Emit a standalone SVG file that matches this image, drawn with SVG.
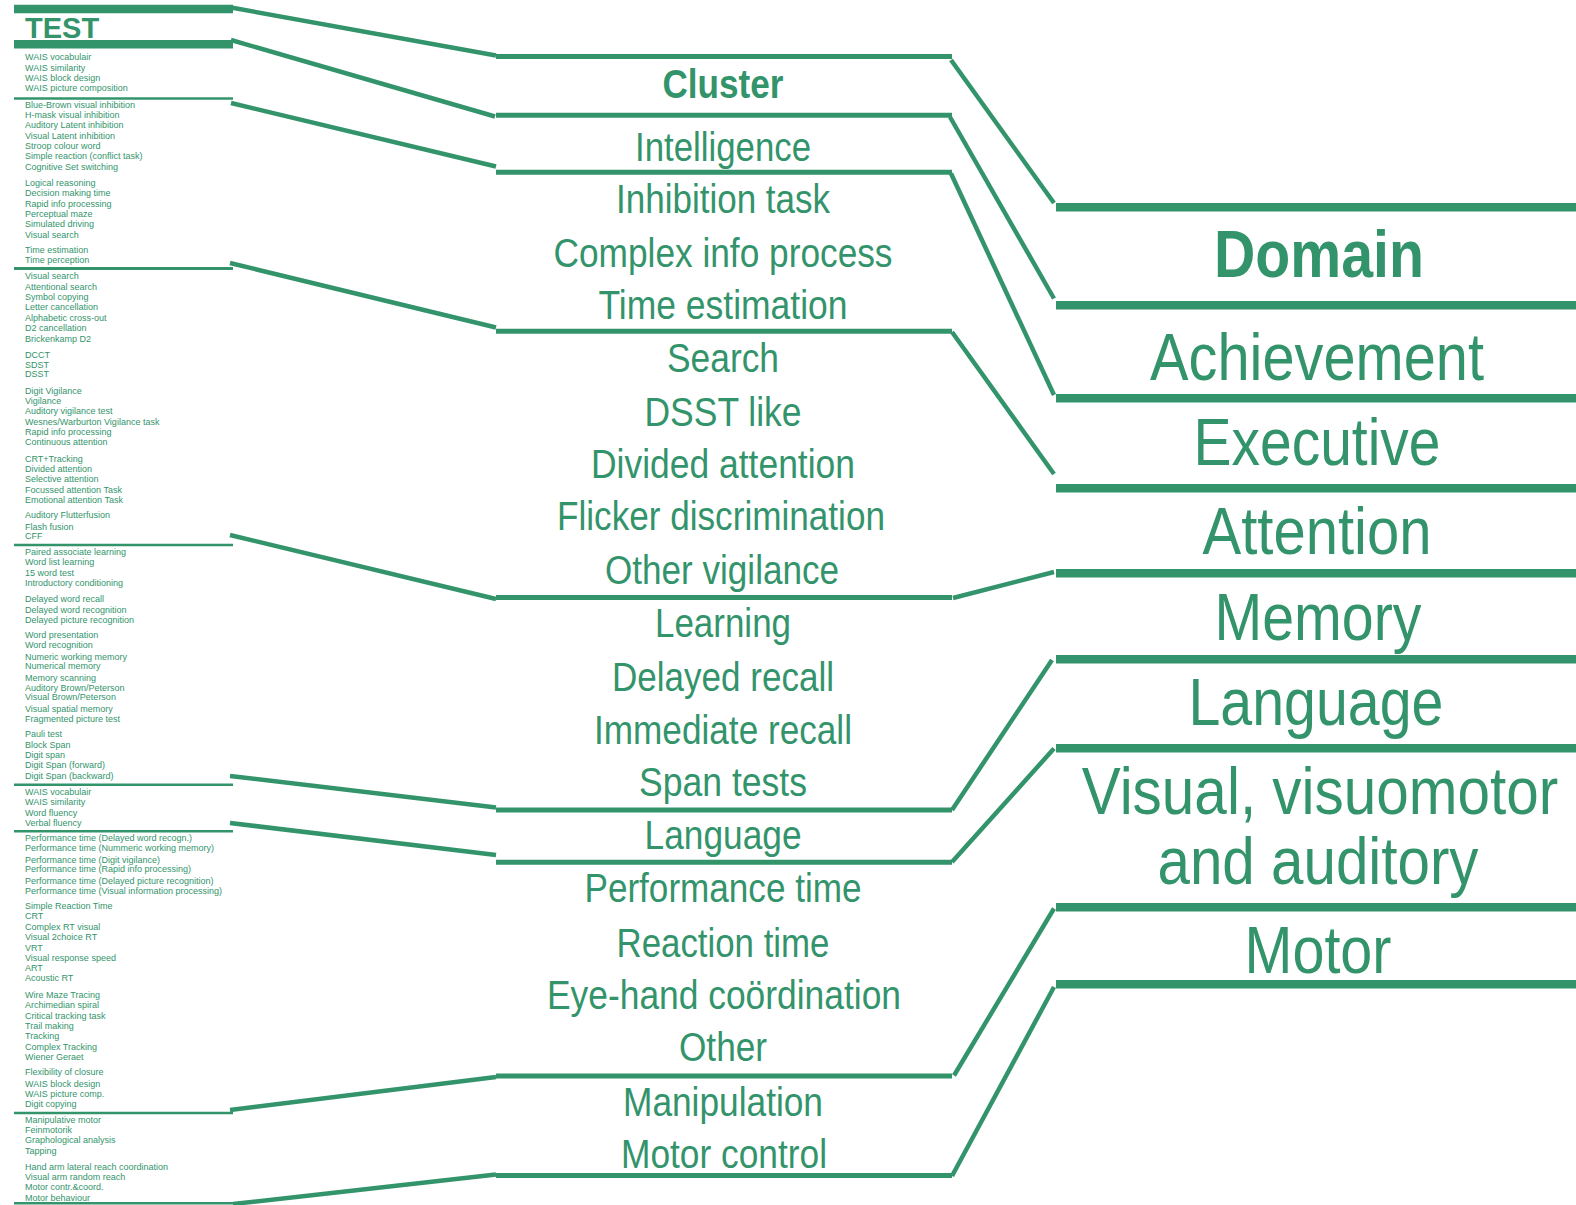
<svg xmlns="http://www.w3.org/2000/svg" width="1576" height="1205" viewBox="0 0 1576 1205">
<style>
.bg{fill:#ffffff}
.sep{stroke:#33946b;fill:none;stroke-linecap:butt}
.conn{stroke:#33946b;fill:none;stroke-width:4.5;stroke-linecap:butt;stroke-linejoin:miter}
.ts{font-family:"Liberation Sans",Arial,sans-serif;font-size:9px;fill:#33946b}
.tm{font-family:"Liberation Sans",Arial,sans-serif;font-size:40px;fill:#33946b;text-anchor:middle}
.tr{font-family:"Liberation Sans",Arial,sans-serif;font-size:66px;fill:#33946b;text-anchor:middle}
.b{font-weight:bold}
</style>
<rect class="bg" x="0" y="0" width="1576" height="1205"/>

<g id="test-column">
  <g id="test-separators">
    <line class="sep" x1="14" y1="9" x2="233" y2="9" stroke-width="8.5"/>
    <line class="sep" x1="14" y1="44.3" x2="233" y2="44.3" stroke-width="8.5"/>
    <line class="sep" x1="14" y1="98.5" x2="233" y2="98.5" stroke-width="2.6"/>
    <line class="sep" x1="14" y1="268.5" x2="233" y2="268.5" stroke-width="2.8"/>
    <line class="sep" x1="14" y1="545" x2="233" y2="545" stroke-width="2.6"/>
    <line class="sep" x1="14" y1="784.8" x2="233" y2="784.8" stroke-width="2.6"/>
    <line class="sep" x1="14" y1="831.2" x2="233" y2="831.2" stroke-width="2.6"/>
    <line class="sep" x1="14" y1="1113" x2="233" y2="1113" stroke-width="2.6"/>
    <line class="sep" x1="14" y1="1203.3" x2="233" y2="1203.3" stroke-width="2.6"/>
  </g>
  <g id="test-header"><text class="ts b" x="25" y="37.5" style="font-size:29px">TEST</text></g>
  <g id="tests-intelligence">
    <text class="ts" x="25" y="59.9">WAIS vocabulair</text>
    <text class="ts" x="25" y="70.9">WAIS similarity</text>
    <text class="ts" x="25" y="81.2">WAIS block design</text>
    <text class="ts" x="25" y="91.2">WAIS picture composition</text>
  </g>
  <g id="tests-inhibition">
    <text class="ts" x="25" y="107.9">Blue-Brown visual inhibition</text>
    <text class="ts" x="25" y="117.9">H-mask visual inhibition</text>
    <text class="ts" x="25" y="128.2">Auditory Latent inhibition</text>
    <text class="ts" x="25" y="138.9">Visual Latent inhibition</text>
    <text class="ts" x="25" y="148.9">Stroop colour word</text>
    <text class="ts" x="25" y="158.9">Simple reaction (conflict task)</text>
    <text class="ts" x="25" y="169.5">Cognitive Set switching</text>
  </g>
  <g id="tests-complex-info">
    <text class="ts" x="25" y="185.9">Logical reasoning</text>
    <text class="ts" x="25" y="195.9">Decision making time</text>
    <text class="ts" x="25" y="206.9">Rapid info processing</text>
    <text class="ts" x="25" y="216.9">Perceptual maze</text>
    <text class="ts" x="25" y="227.2">Simulated driving</text>
    <text class="ts" x="25" y="237.9">Visual search</text>
  </g>
  <g id="tests-time-estimation">
    <text class="ts" x="25" y="252.9">Time estimation</text>
    <text class="ts" x="25" y="262.9">Time perception</text>
  </g>
  <g id="tests-search">
    <text class="ts" x="25" y="278.9">Visual search</text>
    <text class="ts" x="25" y="289.5">Attentional search</text>
    <text class="ts" x="25" y="299.9">Symbol copying</text>
    <text class="ts" x="25" y="310.2">Letter cancellation</text>
    <text class="ts" x="25" y="320.9">Alphabetic cross-out</text>
    <text class="ts" x="25" y="331.2">D2 cancellation</text>
    <text class="ts" x="25" y="341.9">Brickenkamp D2</text>
  </g>
  <g id="tests-dsst">
    <text class="ts" x="25" y="357.5">DCCT</text>
    <text class="ts" x="25" y="367.5">SDST</text>
    <text class="ts" x="25" y="376.9">DSST</text>
  </g>
  <g id="tests-vigilance">
    <text class="ts" x="25" y="393.5">Digit Vigilance</text>
    <text class="ts" x="25" y="403.9">Vigilance</text>
    <text class="ts" x="25" y="413.9">Auditory vigilance test</text>
    <text class="ts" x="25" y="424.9">Wesnes/Warburton Vigilance task</text>
    <text class="ts" x="25" y="435.2">Rapid info processing</text>
    <text class="ts" x="25" y="445.2">Continuous attention</text>
  </g>
  <g id="tests-divided">
    <text class="ts" x="25" y="461.9">CRT+Tracking</text>
    <text class="ts" x="25" y="472.2">Divided attention</text>
    <text class="ts" x="25" y="481.9">Selective attention</text>
    <text class="ts" x="25" y="492.9">Focussed attention Task</text>
    <text class="ts" x="25" y="502.9">Emotional attention Task</text>
  </g>
  <g id="tests-flicker">
    <text class="ts" x="25" y="518.2">Auditory Flutterfusion</text>
    <text class="ts" x="25" y="529.9">Flash fusion</text>
    <text class="ts" x="25" y="539.2">CFF</text>
  </g>
  <g id="tests-learning">
    <text class="ts" x="25" y="555.2">Paired associate learning</text>
    <text class="ts" x="25" y="565.2">Word list learning</text>
    <text class="ts" x="25" y="575.9">15 word test</text>
    <text class="ts" x="25" y="585.9">Introductory conditioning</text>
  </g>
  <g id="tests-delayed">
    <text class="ts" x="25" y="601.9">Delayed word recall</text>
    <text class="ts" x="25" y="612.9">Delayed word recognition</text>
    <text class="ts" x="25" y="622.9">Delayed picture recognition</text>
  </g>
  <g id="tests-immediate">
    <text class="ts" x="25" y="637.9">Word presentation</text>
    <text class="ts" x="25" y="648.2">Word recognition</text>
    <text class="ts" x="25" y="659.9">Numeric working memory</text>
    <text class="ts" x="25" y="668.9">Numerical memory</text>
    <text class="ts" x="25" y="680.9">Memory scanning</text>
    <text class="ts" x="25" y="690.9">Auditory Brown/Peterson</text>
    <text class="ts" x="25" y="699.9">Visual Brown/Peterson</text>
    <text class="ts" x="25" y="712.2">Visual spatial memory</text>
    <text class="ts" x="25" y="721.9">Fragmented picture test</text>
  </g>
  <g id="tests-span">
    <text class="ts" x="25" y="736.5">Pauli test</text>
    <text class="ts" x="25" y="747.9">Block Span</text>
    <text class="ts" x="25" y="757.9">Digit span</text>
    <text class="ts" x="25" y="768.2">Digit Span (forward)</text>
    <text class="ts" x="25" y="779.2">Digit Span (backward)</text>
  </g>
  <g id="tests-language">
    <text class="ts" x="25" y="794.9">WAIS vocabulair</text>
    <text class="ts" x="25" y="805.2">WAIS similarity</text>
    <text class="ts" x="25" y="815.9">Word fluency</text>
    <text class="ts" x="25" y="825.9">Verbal fluency</text>
  </g>
  <g id="tests-performance">
    <text class="ts" x="25" y="840.9">Performance time (Delayed word recogn.)</text>
    <text class="ts" x="25" y="851.2">Performance time (Nummeric working memory)</text>
    <text class="ts" x="25" y="863.2">Performance time (Digit vigilance)</text>
    <text class="ts" x="25" y="872.2">Performance time (Rapid info processing)</text>
    <text class="ts" x="25" y="883.5">Performance time (Delayed picture recognition)</text>
    <text class="ts" x="25" y="893.5">Performance time (Visual information processing)</text>
  </g>
  <g id="tests-reaction">
    <text class="ts" x="25" y="908.9">Simple Reaction Time</text>
    <text class="ts" x="25" y="918.9">CRT</text>
    <text class="ts" x="25" y="929.9">Complex RT visual</text>
    <text class="ts" x="25" y="939.5">Visual 2choice RT</text>
    <text class="ts" x="25" y="950.5">VRT</text>
    <text class="ts" x="25" y="960.5">Visual response speed</text>
    <text class="ts" x="25" y="970.9">ART</text>
    <text class="ts" x="25" y="981.2">Acoustic RT</text>
  </g>
  <g id="tests-eye-hand">
    <text class="ts" x="25" y="998.2">Wire Maze Tracing</text>
    <text class="ts" x="25" y="1008.2">Archimedian spiral</text>
    <text class="ts" x="25" y="1018.9">Critical tracking task</text>
    <text class="ts" x="25" y="1029.2">Trail making</text>
    <text class="ts" x="25" y="1039.2">Tracking</text>
    <text class="ts" x="25" y="1049.9">Complex Tracking</text>
    <text class="ts" x="25" y="1059.9">Wiener Geraet</text>
  </g>
  <g id="tests-other">
    <text class="ts" x="25" y="1075.2">Flexibility of closure</text>
    <text class="ts" x="25" y="1086.9">WAIS block design</text>
    <text class="ts" x="25" y="1096.9">WAIS picture comp.</text>
    <text class="ts" x="25" y="1106.9">Digit copying</text>
  </g>
  <g id="tests-manipulation">
    <text class="ts" x="25" y="1122.9">Manipulative motor</text>
    <text class="ts" x="25" y="1132.9">Feinmotorik</text>
    <text class="ts" x="25" y="1142.9">Graphological analysis</text>
    <text class="ts" x="25" y="1153.5">Tapping</text>
  </g>
  <g id="tests-motor-control">
    <text class="ts" x="25" y="1170.2">Hand arm lateral reach coordination</text>
    <text class="ts" x="25" y="1180.2">Visual arm random reach</text>
    <text class="ts" x="25" y="1189.5">Motor contr.&amp;coord.</text>
    <text class="ts" x="25" y="1200.5">Motor behaviour</text>
  </g>
</g>

<g id="cluster-column">
  <g id="cluster-separators">
    <line class="sep" x1="496" y1="56.5" x2="952" y2="56.5" stroke-width="5"/>
    <line class="sep" x1="496" y1="115.3" x2="952" y2="115.3" stroke-width="5"/>
    <line class="sep" x1="496" y1="172.3" x2="952" y2="172.3" stroke-width="5"/>
    <line class="sep" x1="496" y1="331.3" x2="952" y2="331.3" stroke-width="5"/>
    <line class="sep" x1="496" y1="597.5" x2="952" y2="597.5" stroke-width="5"/>
    <line class="sep" x1="496" y1="810" x2="952" y2="810" stroke-width="5"/>
    <line class="sep" x1="496" y1="862.3" x2="952" y2="862.3" stroke-width="5"/>
    <line class="sep" x1="496" y1="1076" x2="952" y2="1076" stroke-width="5"/>
    <line class="sep" x1="496" y1="1175.5" x2="952" y2="1175.5" stroke-width="5"/>
  </g>
  <g id="cluster-header"><text class="tm b" x="723" y="98" textLength="121" lengthAdjust="spacingAndGlyphs">Cluster</text></g>
  <g id="cluster-intelligence"><text class="tm" x="723" y="161" textLength="176" lengthAdjust="spacingAndGlyphs">Intelligence</text></g>
  <g id="cluster-inhibition"><text class="tm" x="723" y="213" textLength="214" lengthAdjust="spacingAndGlyphs">Inhibition task</text></g>
  <g id="cluster-complex-info"><text class="tm" x="723" y="267" textLength="339" lengthAdjust="spacingAndGlyphs">Complex info process</text></g>
  <g id="cluster-time-estimation"><text class="tm" x="723" y="319" textLength="249" lengthAdjust="spacingAndGlyphs">Time estimation</text></g>
  <g id="cluster-search"><text class="tm" x="723" y="372" textLength="112" lengthAdjust="spacingAndGlyphs">Search</text></g>
  <g id="cluster-dsst"><text class="tm" x="723" y="426" textLength="157" lengthAdjust="spacingAndGlyphs">DSST like</text></g>
  <g id="cluster-divided"><text class="tm" x="723" y="478" textLength="264" lengthAdjust="spacingAndGlyphs">Divided attention</text></g>
  <g id="cluster-flicker"><text class="tm" x="721" y="530" textLength="328" lengthAdjust="spacingAndGlyphs">Flicker discrimination</text></g>
  <g id="cluster-vigilance"><text class="tm" x="722" y="584" textLength="234" lengthAdjust="spacingAndGlyphs">Other vigilance</text></g>
  <g id="cluster-learning"><text class="tm" x="723" y="637" textLength="136" lengthAdjust="spacingAndGlyphs">Learning</text></g>
  <g id="cluster-delayed"><text class="tm" x="723" y="691" textLength="222" lengthAdjust="spacingAndGlyphs">Delayed recall</text></g>
  <g id="cluster-immediate"><text class="tm" x="723" y="744" textLength="258" lengthAdjust="spacingAndGlyphs">Immediate recall</text></g>
  <g id="cluster-span"><text class="tm" x="723" y="796" textLength="168" lengthAdjust="spacingAndGlyphs">Span tests</text></g>
  <g id="cluster-language"><text class="tm" x="723" y="849" textLength="157" lengthAdjust="spacingAndGlyphs">Language</text></g>
  <g id="cluster-performance"><text class="tm" x="723" y="902" textLength="277" lengthAdjust="spacingAndGlyphs">Performance time</text></g>
  <g id="cluster-reaction"><text class="tm" x="723" y="957" textLength="213" lengthAdjust="spacingAndGlyphs">Reaction time</text></g>
  <g id="cluster-eye-hand"><text class="tm" x="724" y="1009" textLength="354" lengthAdjust="spacingAndGlyphs">Eye-hand coördination</text></g>
  <g id="cluster-other"><text class="tm" x="723" y="1061" textLength="88" lengthAdjust="spacingAndGlyphs">Other</text></g>
  <g id="cluster-manipulation"><text class="tm" x="723" y="1116" textLength="200" lengthAdjust="spacingAndGlyphs">Manipulation</text></g>
  <g id="cluster-motor-control"><text class="tm" x="724" y="1168" textLength="206" lengthAdjust="spacingAndGlyphs">Motor control</text></g>
</g>

<g id="domain-column">
  <g id="domain-separators">
    <line class="sep" x1="1056" y1="207.3" x2="1576" y2="207.3" stroke-width="8.6"/>
    <line class="sep" x1="1056" y1="305.3" x2="1576" y2="305.3" stroke-width="8.6"/>
    <line class="sep" x1="1056" y1="398.3" x2="1576" y2="398.3" stroke-width="8.6"/>
    <line class="sep" x1="1056" y1="488.3" x2="1576" y2="488.3" stroke-width="8.6"/>
    <line class="sep" x1="1056" y1="573.3" x2="1576" y2="573.3" stroke-width="8.6"/>
    <line class="sep" x1="1056" y1="659.3" x2="1576" y2="659.3" stroke-width="8.6"/>
    <line class="sep" x1="1056" y1="748.3" x2="1576" y2="748.3" stroke-width="8.6"/>
    <line class="sep" x1="1056" y1="907.3" x2="1576" y2="907.3" stroke-width="8.6"/>
    <line class="sep" x1="1056" y1="984.3" x2="1576" y2="984.3" stroke-width="8.6"/>
  </g>
  <g id="domain-header"><text class="tr b" x="1319" y="277.3" textLength="210" lengthAdjust="spacingAndGlyphs">Domain</text></g>
  <g id="domain-achievement"><text class="tr" x="1317" y="380" textLength="334" lengthAdjust="spacingAndGlyphs">Achievement</text></g>
  <g id="domain-executive"><text class="tr" x="1317" y="465" textLength="247" lengthAdjust="spacingAndGlyphs">Executive</text></g>
  <g id="domain-attention"><text class="tr" x="1317" y="554" textLength="229" lengthAdjust="spacingAndGlyphs">Attention</text></g>
  <g id="domain-memory"><text class="tr" x="1318" y="640" textLength="207" lengthAdjust="spacingAndGlyphs">Memory</text></g>
  <g id="domain-language"><text class="tr" x="1316" y="724.5" textLength="255" lengthAdjust="spacingAndGlyphs">Language</text></g>
  <g id="domain-visual">
    <text class="tr" transform="translate(1320,814) scale(0.886,1)" x="0" y="0">Visual, visuomotor</text>
    <text class="tr" x="1318" y="884" textLength="321" lengthAdjust="spacingAndGlyphs">and auditory</text>
  </g>
  <g id="domain-motor"><text class="tr" x="1318" y="973" textLength="147" lengthAdjust="spacingAndGlyphs">Motor</text></g>
</g>

<g id="connectors">
  <line class="conn" x1="231" y1="7.5" x2="496" y2="55.5"/>
  <line class="conn" x1="231" y1="40" x2="495" y2="116.5"/>
  <line class="conn" x1="231" y1="103" x2="496" y2="166.5"/>
  <line class="conn" x1="230" y1="263" x2="496" y2="327.5"/>
  <line class="conn" x1="230" y1="535" x2="496" y2="599"/>
  <line class="conn" x1="230" y1="776" x2="496" y2="807.5"/>
  <line class="conn" x1="230" y1="823" x2="496" y2="855"/>
  <line class="conn" x1="230" y1="1110" x2="496" y2="1077"/>
  <line class="conn" x1="233" y1="1204" x2="496" y2="1174.5"/>

  <line class="conn" x1="951" y1="60" x2="1054" y2="203"/>
  <line class="conn" x1="950" y1="117" x2="1054" y2="298.5"/>
  <line class="conn" x1="951" y1="173.5" x2="1054" y2="395"/>
  <line class="conn" x1="952" y1="332" x2="1054" y2="474"/>
  <line class="conn" x1="953" y1="598" x2="1054" y2="572"/>
  <line class="conn" x1="952" y1="810" x2="1052" y2="660"/>
  <line class="conn" x1="952" y1="862" x2="1054" y2="748.5"/>
  <line class="conn" x1="954" y1="1075.5" x2="1054" y2="908.5"/>
  <line class="conn" x1="952" y1="1176" x2="1054" y2="987"/>
</g>
</svg>
